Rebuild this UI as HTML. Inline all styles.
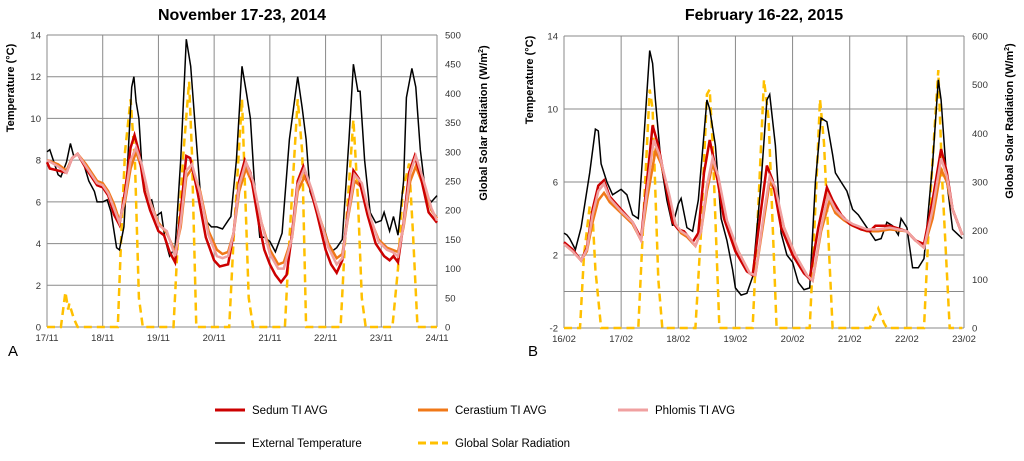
<!DOCTYPE html>
<html><head><meta charset="utf-8"><style>
body{margin:0;background:#fff;}
svg{display:block;font-family:"Liberation Sans",sans-serif;}
</style></head><body>
<svg id="c" width="1024" height="461" viewBox="0 0 1024 461"></svg>
<script>
// Panel A data (day offset from 17/11, value)
const aDays = ["17/11","18/11","19/11","20/11","21/11","22/11","23/11","24/11"];
const aTempTicks = [0,2,4,6,8,10,12,14];
const aRadTicks = [0,50,100,150,200,250,300,350,400,450,500];
const aExternal = [[0,8.4],[0.05,8.5],[0.1,8.1],[0.2,7.3],[0.25,7.2],[0.35,7.9],[0.42,8.8],[0.48,8.2],[0.55,8.3],[0.65,7.9],[0.75,7.0],[0.85,6.5],[0.9,6.0],[1.0,6.0],[1.08,6.1],[1.15,5.5],[1.25,3.8],[1.3,3.7],[1.38,4.8],[1.45,8],[1.52,11.5],[1.56,12.0],[1.6,10.8],[1.65,10.0],[1.72,7],[1.8,6.0],[1.88,6.1],[1.95,5.3],[2.05,5.5],[2.12,4.2],[2.2,3.4],[2.3,3.8],[2.4,8],[2.5,13.8],[2.58,12.5],[2.65,10],[2.75,6.5],[2.85,5.1],[2.95,4.8],[3.05,4.8],[3.15,4.7],[3.25,5.1],[3.3,5.3],[3.4,8],[3.5,12.5],[3.58,11.2],[3.65,10],[3.72,7],[3.82,4.3],[3.9,4.3],[4.0,4.1],[4.1,3.6],[4.22,4.5],[4.35,9],[4.5,12.0],[4.58,10.5],[4.65,9],[4.72,6.5],[4.85,5.5],[5.0,4.5],[5.1,3.6],[5.2,3.8],[5.3,4.2],[5.42,9],[5.5,12.6],[5.58,11.3],[5.62,11.3],[5.7,8],[5.8,5.5],[5.9,5.0],[6.0,5.1],[6.05,5.5],[6.15,4.6],[6.22,5.3],[6.3,4.4],[6.4,7],[6.45,11],[6.55,12.4],[6.62,11.5],[6.7,8.5],[6.8,6.3],[6.9,6.0],[7.0,6.3]];
const aSedum = [[0,7.9],[0.05,7.6],[0.2,7.5],[0.35,7.4],[0.45,8.1],[0.55,8.3],[0.7,7.6],[0.9,6.8],[1.0,6.7],[1.1,6.3],[1.2,5.4],[1.3,4.9],[1.4,6.5],[1.5,8.6],[1.57,9.2],[1.65,8.4],[1.75,6.5],[1.85,5.6],[2.0,4.6],[2.1,4.4],[2.2,3.6],[2.3,3.1],[2.4,5.5],[2.5,8.2],[2.57,8.1],[2.7,6.5],[2.85,4.3],[3.0,3.2],[3.1,2.9],[3.25,3.0],[3.35,4.5],[3.45,7],[3.55,8.0],[3.65,7.4],[3.8,5],[3.9,3.7],[4.0,3.0],[4.1,2.5],[4.2,2.15],[4.3,2.5],[4.4,4.5],[4.5,7.0],[4.6,7.7],[4.7,6.9],[4.85,5.4],[5.0,3.7],[5.1,3.0],[5.2,2.6],[5.3,3.2],[5.4,5.5],[5.5,7.5],[5.6,7.1],[5.75,5.4],[5.9,4.0],[6.05,3.4],[6.15,3.2],[6.22,3.4],[6.3,3.1],[6.4,5],[6.5,7.4],[6.6,8.2],[6.7,7.3],[6.85,5.5],[7.0,5.0]];
const aCerastium = [[0,8.0],[0.2,7.8],[0.35,7.5],[0.45,8.1],[0.55,8.3],[0.7,7.8],[0.9,7.0],[1.0,6.9],[1.1,6.5],[1.2,5.9],[1.3,5.1],[1.4,6.0],[1.5,7.6],[1.6,8.4],[1.7,7.6],[1.85,6.0],[2.0,5.0],[2.15,4.5],[2.3,3.6],[2.4,4.8],[2.5,7.2],[2.6,7.6],[2.75,6.5],[2.9,4.6],[3.05,3.7],[3.15,3.5],[3.25,3.6],[3.35,4.5],[3.45,6.5],[3.57,7.6],[3.7,6.8],[3.85,5.0],[4.0,3.7],[4.15,3.0],[4.25,3.1],[4.4,4.3],[4.5,6.5],[4.62,7.2],[4.75,6.5],[4.9,5.2],[5.05,4.0],[5.2,3.3],[5.3,3.5],[5.4,5.2],[5.52,7.0],[5.65,6.7],[5.8,5.2],[5.95,4.2],[6.1,3.8],[6.2,3.7],[6.3,3.6],[6.4,4.8],[6.52,7.0],[6.62,7.7],[6.75,6.8],[6.9,5.6],[7.0,5.2]];
const aPhlomis = [[0,8.0],[0.2,7.7],[0.35,7.4],[0.45,8.1],[0.55,8.3],[0.7,7.7],[0.9,6.9],[1.0,6.8],[1.1,6.4],[1.2,5.7],[1.3,5.0],[1.4,6.2],[1.5,8.0],[1.6,8.6],[1.7,7.8],[1.85,6.0],[2.0,4.9],[2.15,4.6],[2.3,3.4],[2.4,5.0],[2.5,7.5],[2.6,7.8],[2.75,6.4],[2.9,4.4],[3.05,3.4],[3.15,3.3],[3.25,3.4],[3.35,4.5],[3.45,6.8],[3.57,7.9],[3.7,7.0],[3.85,5.0],[4.0,3.5],[4.15,2.8],[4.25,2.8],[4.4,4.3],[4.5,6.8],[4.62,7.6],[4.75,6.6],[4.9,5.2],[5.05,3.8],[5.2,3.0],[5.3,3.3],[5.4,5.3],[5.52,7.3],[5.65,6.9],[5.8,5.3],[5.95,4.1],[6.1,3.7],[6.2,3.6],[6.3,3.4],[6.4,4.9],[6.52,7.4],[6.62,8.2],[6.75,7.1],[6.9,5.7],[7.0,5.1]];
const aSolar = [[0,0],[0.25,0],[0.33,60],[0.38,30],[0.4,40],[0.48,15],[0.55,0],[1.0,0],[1.27,0],[1.33,150],[1.4,300],[1.5,390],[1.58,280],[1.65,50],[1.72,0],[2.27,0],[2.35,150],[2.45,300],[2.55,420],[2.6,300],[2.68,0],[3.27,0],[3.35,150],[3.5,390],[3.55,250],[3.62,50],[3.7,0],[4.27,0],[4.35,150],[4.5,390],[4.58,300],[4.65,0],[5.27,0],[5.35,150],[5.5,355],[5.58,220],[5.65,50],[5.72,0],[6.2,0],[6.3,100],[6.38,230],[6.5,280],[6.57,160],[6.65,0],[7.0,0]];

// Panel B data (day offset from 16/02, value)
const bDays = ["16/02","17/02","18/02","19/02","20/02","21/02","22/02","23/02"];
const bTempTicks = [-2,2,6,10,14];
const bTempGrid = [-2,0,2,6,10,14];
const bRadTicks = [0,100,200,300,400,500,600];
const bExternal = [[0,3.2],[0.05,3.1],[0.1,2.9],[0.2,2.3],[0.3,3.5],[0.45,6.5],[0.55,8.9],[0.6,8.8],[0.65,7],[0.75,6],[0.85,5.3],[0.95,5.5],[1.0,5.6],[1.1,5.3],[1.2,4.2],[1.3,4],[1.4,8.5],[1.5,13.2],[1.55,12.5],[1.6,10.5],[1.7,7],[1.8,5.0],[1.9,3.6],[2.0,4.8],[2.05,5.1],[2.15,3.5],[2.25,3.3],[2.35,5],[2.5,10.5],[2.55,10.0],[2.65,8],[2.75,4],[2.85,2.8],[2.95,1.2],[3.0,0.2],[3.1,-0.2],[3.2,-0.1],[3.3,0.8],[3.45,6],[3.55,10.5],[3.6,10.8],[3.7,8],[3.8,3.2],[3.9,2.0],[4.0,1.6],[4.1,0.5],[4.2,0.1],[4.3,0.2],[4.4,6],[4.5,9.5],[4.6,9.3],[4.7,7.5],[4.75,6.5],[4.85,6.0],[4.95,5.5],[5.05,4.5],[5.15,4.2],[5.3,3.5],[5.45,2.8],[5.55,2.9],[5.65,3.8],[5.75,3.6],[5.85,3.1],[5.9,4],[6.0,3.5],[6.1,1.3],[6.2,1.3],[6.3,1.8],[6.45,7],[6.55,11.6],[6.6,10.5],[6.7,6],[6.8,3.4],[6.97,2.9]];
const bSedum = [[0,2.7],[0.15,2.3],[0.3,1.7],[0.4,2.4],[0.5,4.5],[0.6,5.8],[0.7,6.1],[0.8,5.2],[1.0,4.5],[1.2,3.8],[1.3,3.2],[1.35,2.9],[1.45,6],[1.55,9.1],[1.65,8.0],[1.8,5.5],[1.9,3.8],[2.0,3.4],[2.1,3.3],[2.25,2.7],[2.35,3.2],[2.45,6.5],[2.55,8.3],[2.65,6.8],[2.8,4.0],[3.0,2.2],[3.2,1.1],[3.3,0.9],[3.45,4.5],[3.55,6.9],[3.65,6.1],[3.8,3.5],[4.0,2.0],[4.2,1.0],[4.3,0.7],[4.45,3.5],[4.6,5.7],[4.7,5.0],[4.85,4.2],[5.0,3.7],[5.2,3.4],[5.35,3.3],[5.45,3.6],[5.7,3.6],[6.0,3.3],[6.15,2.8],[6.3,2.6],[6.45,5],[6.6,7.8],[6.7,6.5],[6.8,4.5],[6.97,3.1]];
const bCerastium = [[0,2.6],[0.15,2.2],[0.3,1.7],[0.4,2.2],[0.5,3.8],[0.6,5.0],[0.7,5.4],[0.8,4.9],[1.0,4.3],[1.2,3.7],[1.3,3.1],[1.35,2.8],[1.45,5],[1.6,7.7],[1.7,7.0],[1.85,5],[1.95,3.7],[2.05,3.2],[2.15,3.0],[2.3,2.5],[2.4,3.3],[2.5,5.5],[2.6,7.0],[2.7,6.0],[2.85,3.8],[3.05,2.2],[3.25,1.0],[3.35,0.9],[3.5,4],[3.6,6.0],[3.7,5.5],[3.85,3.5],[4.05,2.0],[4.25,0.9],[4.35,0.6],[4.5,3.3],[4.65,5.0],[4.75,4.3],[4.9,3.9],[5.05,3.6],[5.3,3.3],[5.5,3.3],[5.7,3.4],[6.0,3.3],[6.15,2.8],[6.3,2.4],[6.45,4],[6.6,6.7],[6.7,6.0],[6.8,4.5],[6.97,3.1]];
const bPhlomis = [[0,2.6],[0.15,2.2],[0.3,1.7],[0.4,2.3],[0.5,4.2],[0.6,5.5],[0.7,5.9],[0.8,5.1],[1.0,4.4],[1.2,3.8],[1.3,3.1],[1.35,2.8],[1.45,5.5],[1.57,8.3],[1.67,7.5],[1.85,5.2],[1.95,3.7],[2.05,3.3],[2.15,3.1],[2.3,2.5],[2.4,3.3],[2.5,5.8],[2.6,7.3],[2.7,6.3],[2.85,3.9],[3.05,2.2],[3.25,1.0],[3.35,0.9],[3.5,4.3],[3.6,6.3],[3.7,5.7],[3.85,3.5],[4.05,2.0],[4.25,0.9],[4.35,0.6],[4.5,3.5],[4.62,5.3],[4.75,4.5],[4.9,4.0],[5.05,3.7],[5.3,3.4],[5.5,3.4],[5.7,3.5],[6.0,3.3],[6.15,2.8],[6.3,2.4],[6.45,4.5],[6.6,7.3],[6.7,6.3],[6.8,4.5],[6.97,3.1]];
const bSolar = [[0,0],[0.28,0],[0.35,150],[0.45,250],[0.5,230],[0.55,120],[0.65,0],[1.0,0],[1.3,0],[1.4,250],[1.5,490],[1.55,450],[1.65,100],[1.72,0],[2.3,0],[2.4,200],[2.5,480],[2.55,490],[2.6,380],[2.72,0],[3.3,0],[3.4,250],[3.5,510],[3.58,430],[3.72,0],[4.3,0],[4.4,250],[4.48,470],[4.55,380],[4.7,0],[5.35,0],[5.5,40],[5.6,10],[5.65,0],[6.3,0],[6.4,250],[6.55,530],[6.62,300],[6.75,0],[6.97,0]];

const NS='http://www.w3.org/2000/svg';
const svg=document.getElementById('c');
function mk(tag,attrs,parent,text){const e=document.createElementNS(NS,tag);for(const k in attrs)e.setAttribute(k,attrs[k]);if(text!==undefined)e.textContent=text;(parent||svg).appendChild(e);return e;}

function panel(cfg){
  const g=mk('g',{});
  
  
  const {x0,x1,yTop,yBot,tMin,tMax,rMax}=cfg;
  const X=d=>x0+(x1-x0)*d/7;
  const Y=t=>yBot-(yBot-yTop)*(t-tMin)/(tMax-tMin);
  const R=r=>yBot-(yBot-yTop)*r/rMax;
  cfg.grid.forEach(t=>{const l=mk('line',{x1:x0,x2:x1,y1:Y(t),y2:Y(t),stroke:'#8a8a8a','stroke-width':1},g);
    });
  cfg.days.forEach((d,i)=>{const l=mk('line',{x1:X(i),x2:X(i),y1:yTop,y2:yBot,stroke:'#8a8a8a','stroke-width':1},g);
    
    const t=mk('text',{x:X(i),y:yBot+14,'text-anchor':'middle','font-size':9.5,fill:'#333'},g,d);
    });
  cfg.tTicks.forEach(v=>{const t=mk('text',{x:x0-6,y:Y(v)+3.5,'text-anchor':'end','font-size':9.5,fill:'#333'},g,v);
    });
  cfg.rTicks.forEach(v=>{const t=mk('text',{x:x1+8,y:R(v)+3.5,'text-anchor':'start','font-size':9.5,fill:'#333'},g,v);
    });
  const path=(pts,f)=>pts.map((p,i)=>(i?'L':'M')+X(p[0]).toFixed(1)+' '+f(p[1]).toFixed(1)).join(' ');
  const s1=mk('path',{d:path(cfg.solar,R),fill:'none',stroke:'#ffc000','stroke-width':2.5,'stroke-dasharray':'8 5'},g);
  
  const s2=mk('path',{d:path(cfg.ext,Y),fill:'none',stroke:'#000','stroke-width':1.5},g);
  
  const s3=mk('path',{d:path(cfg.cer,Y),fill:'none',stroke:'#f07818','stroke-width':2.5},g);
  
  const s4=mk('path',{d:path(cfg.sed,Y),fill:'none',stroke:'#cc0000','stroke-width':2.5},g);
  
  const s5=mk('path',{d:path(cfg.phl,Y),fill:'none',stroke:'#f0a0a0','stroke-width':2.5},g);
  
  const t=mk('text',{x:(x0+x1)/2,y:cfg.titleY,'text-anchor':'middle','font-size':16,'font-weight':'bold',fill:'#000'},g,cfg.title);
  
  const yl=mk('text',{x:0,y:0,'text-anchor':'middle','font-size':11,'font-weight':'bold',transform:`translate(${cfg.ylx},${cfg.yly}) rotate(-90)`},g,'Temperature (°C)');
  
  const yr=mk('text',{x:0,y:0,'text-anchor':'middle','font-size':11,'font-weight':'bold',transform:`translate(${cfg.yrx},${cfg.yry}) rotate(-90)`},g);
  
  yr.appendChild(document.createTextNode('Global Solar Radiation (W/m'));
  mk('tspan',{dy:-4,'font-size':7},yr,'2');
  mk('tspan',{dy:4},yr,')');
  const L=mk('text',{x:cfg.lx,y:356,'font-size':15,fill:'#000'},g,cfg.letter);
  
}
panel({name:'panel-a',x0:47,x1:437,yTop:35,yBot:327,tMin:0,tMax:14,rMax:500,grid:aTempTicks,tTicks:aTempTicks,rTicks:aRadTicks,days:aDays,
  ext:aExternal,sed:aSedum,cer:aCerastium,phl:aPhlomis,solar:aSolar,title:'November 17-23, 2014',titleY:20,ylx:14,yly:88,yrx:487,yry:123,letter:'A',lx:8});
panel({name:'panel-b',x0:564,x1:964,yTop:36,yBot:328,tMin:-2,tMax:14,rMax:600,grid:bTempGrid,tTicks:bTempTicks,rTicks:bRadTicks,days:bDays,
  ext:bExternal,sed:bSedum,cer:bCerastium,phl:bPhlomis,solar:bSolar,title:'February 16-22, 2015',titleY:20,ylx:533,yly:80,yrx:1013,yry:121,letter:'B',lx:528});

// legend
const lg=mk('g',{});


const legendItems=[
  ['Sedum TI AVG','#cc0000',215,410,false],['Cerastium TI AVG','#f07818',418,410,false],['Phlomis TI AVG','#f0a0a0',618,410,false],
  ['External Temperature','#000',215,443,false],['Global Solar Radiation','#ffc000',418,443,true]];
legendItems.forEach(it=>{
  const e=mk('g',{},lg);
  
  
  const a={x1:it[2],x2:it[2]+30,y1:it[3],y2:it[3],stroke:it[1],'stroke-width':it[1]==='#000'?1.5:3};
  if(it[4]){a['stroke-dasharray']='8 4';}
  mk('line',a,e);
  mk('text',{x:it[2]+37,y:it[3]+4,'font-size':11.5,fill:'#000'},e,it[0]);
});
</script>
</body></html>
